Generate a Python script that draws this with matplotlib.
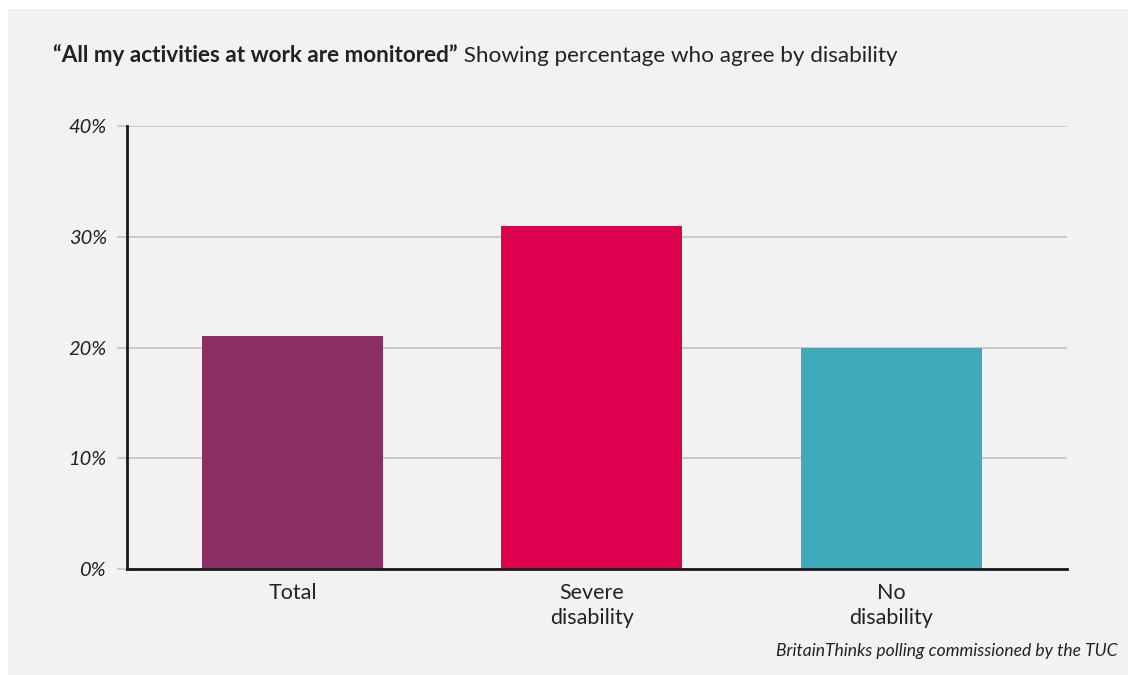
import matplotlib.pyplot as plt
from matplotlib.patches import Rectangle
from matplotlib.ticker import FuncFormatter

categories = ["Total", "Severe\ndisability", "No\ndisability"]
agree_pct = [21, 31, 20]
bar_colors = ["#8b2f62", "#dc004e", "#3eaaba"]
y_ticks = [0, 10, 20, 30, 40]

title_bold = "\u201cAll my activities at work are monitored\u201d"
title_rest = " Showing percentage who agree by disability"
source = "BritainThinks polling commissioned by the TUC"

plt.rcParams["font.family"] = ["Lato", "DejaVu Sans"]

bg = "#f2f2f2"
text_col = "#222222"
grid_col = "#c4c4c4"

fig = plt.figure(figsize=(11.35, 6.75), dpi=100)
fig.patch.set_facecolor("white")
# grey card behind the chart, leaving a thin white margin
fig.patches.append(Rectangle((8 / 1135, 0), 1120 / 1135, 666 / 675,
                             transform=fig.transFigure, facecolor=bg,
                             edgecolor="none", zorder=-10))

ax = fig.add_axes([127 / 1135, 106 / 675, 940 / 1135, 443 / 675])
ax.set_facecolor(bg)

x = range(len(categories))
ax.bar(x, agree_pct, width=0.605, color=bar_colors, zorder=3)

ax.set_xlim(-0.553, 2.588)
ax.set_ylim(0, 40)
ax.set_yticks(y_ticks)
ax.yaxis.set_major_formatter(FuncFormatter(lambda v, _: f"{v:.0f}%"))
ax.set_xticks(list(x))
ax.set_xticklabels(categories, fontsize=15.5, color=text_col, linespacing=1.3)

ax.grid(axis="y", color=grid_col, linewidth=1.2, zorder=0)
ax.tick_params(axis="y", length=7.5, width=1.2, color=grid_col, pad=7,
               labelsize=14.5, labelcolor=text_col)
for lbl in ax.get_yticklabels():
    lbl.set_fontstyle("italic")
ax.tick_params(axis="x", length=0, pad=10)

for side in ["top", "right"]:
    ax.spines[side].set_visible(False)
for side in ["left", "bottom"]:
    ax.spines[side].set_color("#1a1a1a")
    ax.spines[side].set_linewidth(2)
    ax.spines[side].set_zorder(4)

t1 = fig.text(53 / 1135, 1 - 55 / 675, title_bold, fontsize=16.2,
              fontweight="bold", color=text_col, va="center")
fig.canvas.draw()
ax.annotate(title_rest, xy=(1, 0), xycoords=t1, va="bottom", fontsize=16.2,
            color=text_col, annotation_clip=False)

fig.text(1117 / 1135, 1 - 651 / 675, source, fontsize=12.6,
         fontstyle="italic", color=text_col, ha="right", va="center")

fig.savefig("out.png", dpi=100, facecolor=fig.get_facecolor())
